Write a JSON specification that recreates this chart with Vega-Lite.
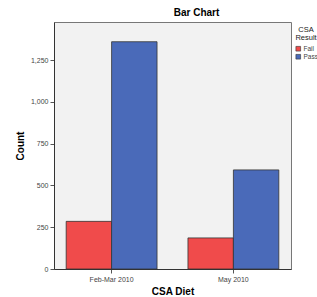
{
  "$schema": "https://vega.github.io/schema/vega-lite/v6.json",
  "autosize": {"type": "none"},
  "padding": {"left": 54, "top": 22, "right": 26, "bottom": 28},
  "width": 237,
  "height": 247,
  "background": "white",
  "title": {"text": "Bar Chart", "anchor": "middle", "dx": 24, "offset": 4, "fontSize": 10, "fontWeight": "bold", "font": "Liberation Sans", "color": "#000"},
  "config": {
    "view": {"fill": "#f2f2f2", "stroke": "#777777", "strokeWidth": 1},
    "font": "Liberation Sans"
  },
  "data": {
    "values": [
      {"diet": "Feb-Mar 2010", "result": "Fail", "count": 285},
      {"diet": "Feb-Mar 2010", "result": "Pass", "count": 1360},
      {"diet": "May 2010", "result": "Fail", "count": 186},
      {"diet": "May 2010", "result": "Pass", "count": 593}
    ]
  },
  "mark": {"type": "bar", "stroke": "#333333", "strokeWidth": 0.8},
  "encoding": {
    "x": {
      "field": "diet", "type": "nominal",
      "scale": {"paddingInner": 0.254, "paddingOuter": 0.1},
      "axis": {"title": "CSA Diet", "labelAngle": 0, "labelFontSize": 7, "labelColor": "#444", "titleFontSize": 10, "titleFontWeight": "bold", "titlePadding": 4, "tickSize": 4, "tickColor": "#555", "domainColor": "#333", "labelPadding": 2, "grid": false}
    },
    "xOffset": {"field": "result", "type": "nominal", "sort": ["Fail", "Pass"], "scale": {"paddingInner": 0, "paddingOuter": 0}},
    "y": {
      "field": "count", "type": "quantitative",
      "scale": {"domain": [0, 1478], "nice": false},
      "axis": {"title": "Count", "values": [0, 250, 500, 750, 1000, 1250], "format": ",d", "grid": false, "labelFontSize": 7, "labelColor": "#444", "titleFontSize": 10, "titleFontWeight": "bold", "titlePadding": 5, "tickSize": 4, "tickColor": "#555", "domainColor": "#333", "labelPadding": 2}
    },
    "color": {
      "field": "result", "type": "nominal",
      "scale": {"domain": ["Fail", "Pass"], "range": ["#f04b4b", "#4a6ab9"]},
      "legend": {
        "title": ["CSA", "Result"], "orient": "none", "legendX": 241, "legendY": 4,
        "titleFontSize": 7.5, "titleFontWeight": "normal", "titleColor": "#222", "titleAlign": "center", "titleAnchor": "middle", "titleLineHeight": 8, "titlePadding": 4,
        "labelFontSize": 6.5, "labelColor": "#444", "symbolType": "square", "symbolSize": 22, "symbolStrokeColor": "#333", "symbolStrokeWidth": 0.6, "labelOffset": 2, "rowPadding": 0, "padding": 0
      }
    }
  }
}
